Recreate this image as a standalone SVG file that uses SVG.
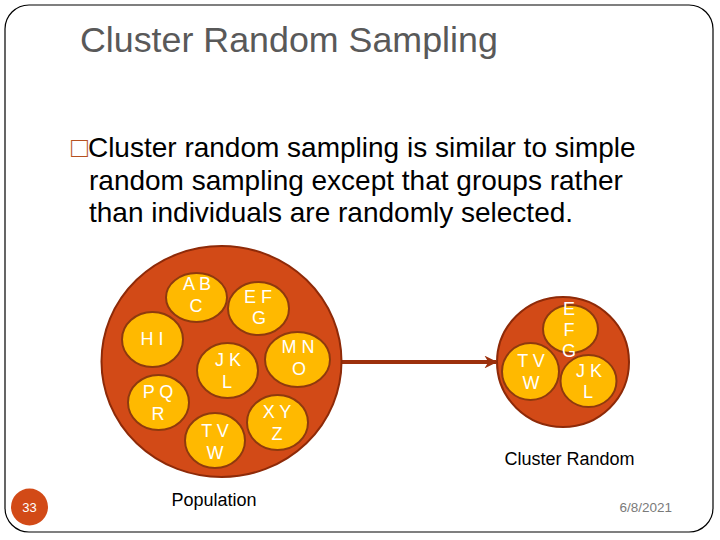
<svg xmlns="http://www.w3.org/2000/svg" width="720" height="540" viewBox="0 0 720 540">
<style>
.big{fill:#D24A17;stroke:#8E2A08;stroke-width:2}
.cl{fill:#FFB900;stroke:#8E3A0E;stroke-width:2}
.lb{font-family:"Liberation Sans",Arial,sans-serif;font-size:18px;fill:#FFFFFF;text-anchor:middle}
.body{font-family:"Liberation Sans",Arial,sans-serif;font-size:28px;fill:#000000}
.cap{font-family:"Liberation Sans",Arial,sans-serif;font-size:18px;fill:#000000;text-anchor:middle}
</style>
<defs>
<marker id="ah" viewBox="0 0 10 10" refX="9" refY="5" markerWidth="3.2" markerHeight="3.2" orient="auto" markerUnits="strokeWidth">
<path d="M0,0 L10,5 L0,10 L3,5 Z" fill="#9C300C"/>
</marker>
</defs>
<rect x="0" y="0" width="720" height="540" fill="#FFFFFF"/>
<rect id="frame" x="5" y="5" width="708" height="527" rx="24" ry="24" fill="none" stroke="#000000" stroke-width="1.2"/>
<text id="title" x="80" y="52" font-family="'Liberation Sans',Arial,sans-serif" font-size="35.8" fill="#595959">Cluster Random Sampling</text>
<g id="bullet-text">
<text class="body" x="71" y="157"><tspan fill="#B5501F">□</tspan>Cluster random sampling is similar to simple</text>
<text class="body" x="89" y="190">random sampling except that groups rather</text>
<text class="body" x="89" y="222">than individuals are randomly selected.</text>
</g>
<g id="connectors">
<line x1="342" y1="362" x2="496" y2="362" stroke="#9C300C" stroke-width="4" marker-end="url(#ah)"/>
</g>
<g id="population">
<ellipse class="big" cx="221.5" cy="361.5" rx="120" ry="115.5"/>
<g id="c-abc"><ellipse class="cl" cx="196.5" cy="297.5" rx="30.5" ry="24.5"/><text class="lb" x="197" y="290">A B</text><text class="lb" x="196" y="312">C</text></g>
<g id="c-efg"><ellipse class="cl" cx="258.5" cy="308.5" rx="30.5" ry="26.5"/><text class="lb" x="258" y="303">E F</text><text class="lb" x="259" y="324">G</text></g>
<g id="c-hi"><ellipse class="cl" cx="152.5" cy="339.5" rx="30.5" ry="27.5"/><text class="lb" x="152" y="345">H I</text></g>
<g id="c-jkl"><ellipse class="cl" cx="227.5" cy="370.5" rx="30.5" ry="27.5"/><text class="lb" x="228" y="366">J K</text><text class="lb" x="227" y="388">L</text></g>
<g id="c-mno"><ellipse class="cl" cx="297.5" cy="359.5" rx="32.5" ry="27.5"/><text class="lb" x="298" y="353">M N</text><text class="lb" x="299" y="375">O</text></g>
<g id="c-pqr"><ellipse class="cl" cx="158.5" cy="402.5" rx="30.5" ry="27.5"/><text class="lb" x="158" y="398">P Q</text><text class="lb" x="158" y="420">R</text></g>
<g id="c-xyz"><ellipse class="cl" cx="277.5" cy="422.5" rx="30.5" ry="27.5"/><text class="lb" x="277" y="418">X Y</text><text class="lb" x="277" y="440">Z</text></g>
<g id="c-tvw"><ellipse class="cl" cx="215" cy="440.5" rx="30" ry="27.5"/><text class="lb" x="215" y="437">T V</text><text class="lb" x="215" y="459">W</text></g>
<text class="cap" x="214" y="506">Population</text>
</g>
<g id="sample">
<ellipse class="big" cx="563" cy="362" rx="66" ry="65"/>
<g id="s-efg"><ellipse class="cl" cx="570.5" cy="329" rx="27.5" ry="24"/><text class="lb" x="569" y="315">E</text><text class="lb" x="569" y="336">F</text><text class="lb" x="569" y="357">G</text></g>
<g id="s-tvw"><ellipse class="cl" cx="530.5" cy="371.5" rx="28.5" ry="28.5"/><text class="lb" x="531" y="367">T V</text><text class="lb" x="531" y="389">W</text></g>
<g id="s-jkl"><ellipse class="cl" cx="588.5" cy="381" rx="28" ry="26"/><text class="lb" x="589" y="377">J K</text><text class="lb" x="588" y="398">L</text></g>
<text class="cap" x="569.5" y="465">Cluster Random</text>
</g>
<g id="footer">
<circle cx="29.5" cy="507" r="18.5" fill="#D24A17"/>
<text x="29.5" y="512" font-family="'Liberation Sans',Arial,sans-serif" font-size="13" fill="#FFFFFF" text-anchor="middle">33</text>
<text x="672" y="512" font-family="'Liberation Sans',Arial,sans-serif" font-size="13.5" fill="#7A7A7A" text-anchor="end">6/8/2021</text>
</g>
</svg>
